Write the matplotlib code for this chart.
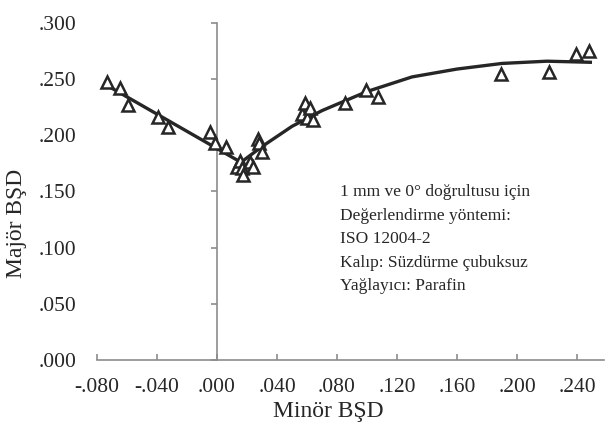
import numpy as np
import matplotlib
matplotlib.use("Agg")
import matplotlib.pyplot as plt
from matplotlib.ticker import FuncFormatter

plt.rcParams['font.family'] = ['Liberation Serif', 'DejaVu Serif']

# Ölçülen noktalar (Minör BŞD, Majör BŞD)
minor = [-0.0735, -0.0647, -0.0591, -0.0391, -0.0325, -0.0047, -0.0013, 0.0060,
         0.0131, 0.0150, 0.0165, 0.0171, 0.0220, 0.0238, 0.0275, 0.0282, 0.0298,
         0.0565, 0.0587, 0.0598, 0.0620, 0.0642, 0.0853, 0.0993, 0.1071,
         0.1890, 0.2215, 0.2390, 0.2480]
major = [0.2476, 0.2417, 0.2269, 0.2165, 0.2076, 0.2031, 0.1928, 0.1900,
         0.1720, 0.1770, 0.1705, 0.1646, 0.1764, 0.1720, 0.1970, 0.1928, 0.1853,
         0.2194, 0.2284, 0.2150, 0.2240, 0.2135, 0.2284, 0.2408, 0.2337,
         0.2550, 0.2560, 0.2720, 0.2750]

# Eğilim çizgisi (sol ve sağ kol)
trend_left_x = [-0.0758, 0.016]
trend_left_y = [0.2463, 0.176]
trend_right_x = [0.016, 0.03, 0.05, 0.07, 0.10, 0.13, 0.16, 0.19, 0.22, 0.25]
trend_right_y = [0.176, 0.190, 0.208, 0.222, 0.239, 0.252, 0.259, 0.264, 0.266, 0.265]

x_ticks = [-0.08, -0.04, 0.0, 0.04, 0.08, 0.12, 0.16, 0.20, 0.24]
y_ticks = [0.0, 0.05, 0.10, 0.15, 0.20, 0.25, 0.30]

note = ["1 mm ve 0° doğrultusu için",
        "Değerlendirme yöntemi:",
        "ISO 12004-2",
        "Kalıp: Süzdürme çubuksuz",
        "Yağlayıcı: Parafin"]

axis_gray = '#8c8c8c'
ink = '#262626'


def fmt(v, pos):
    s = f"{v:.3f}"
    return s.replace("0.", ".", 1)


fig = plt.figure(figsize=(6.09, 4.34), dpi=100)
ax = fig.add_axes([97 / 609, 1 - 360 / 434, (604 - 97) / 609, 337 / 434])

ax.plot(trend_left_x, trend_left_y, color=ink, lw=2.4, solid_capstyle='butt')
ax.plot(trend_right_x, trend_right_y, color=ink, lw=2.4, solid_capstyle='butt')
ax.plot(minor, major, linestyle='none', marker='^', ms=8, mfc='white',
        mec=ink, mew=1.8)

ax.set_xlim(-0.08, 0.258)
ax.set_ylim(0, 0.3)
ax.set_xticks(x_ticks)
ax.set_yticks(y_ticks)
ax.xaxis.set_major_formatter(FuncFormatter(fmt))
ax.yaxis.set_major_formatter(FuncFormatter(fmt))

for side in ['top', 'right', 'left']:
    ax.spines[side].set_visible(False)
ax.spines['bottom'].set_color(axis_gray)
ax.spines['bottom'].set_linewidth(1.2)
ax.tick_params(axis='x', direction='in', length=4, width=1.2, color=axis_gray,
               labelsize=15.5, labelcolor=ink, pad=13)
ax.tick_params(axis='y', length=0, labelsize=15.5, labelcolor=ink, pad=15)

# dikey eksen x = 0 konumunda
sec = ax.secondary_yaxis(0, transform=ax.transData)
sec.spines['left'].set_color(axis_gray)
sec.spines['left'].set_linewidth(1.2)
sec.set_yticks(y_ticks)
sec.tick_params(axis='y', direction='out', length=4, width=1.2, color=axis_gray,
                labelleft=False)

fig.text(328 / 609, 1 - 412 / 434, "Minör BŞD", ha='center', va='center',
         fontsize=17, color=ink)
fig.text(17 / 609, 1 - 223 / 434, "Majör BŞD", ha='center', va='center',
         rotation=90, fontsize=17, color=ink)

ax.text(0.082, 0.1565, "\n".join(note), transform=ax.transData,
        ha='left', va='top', fontsize=12.5, color=ink, linespacing=1.62)

fig.savefig("out.png", dpi=100)
